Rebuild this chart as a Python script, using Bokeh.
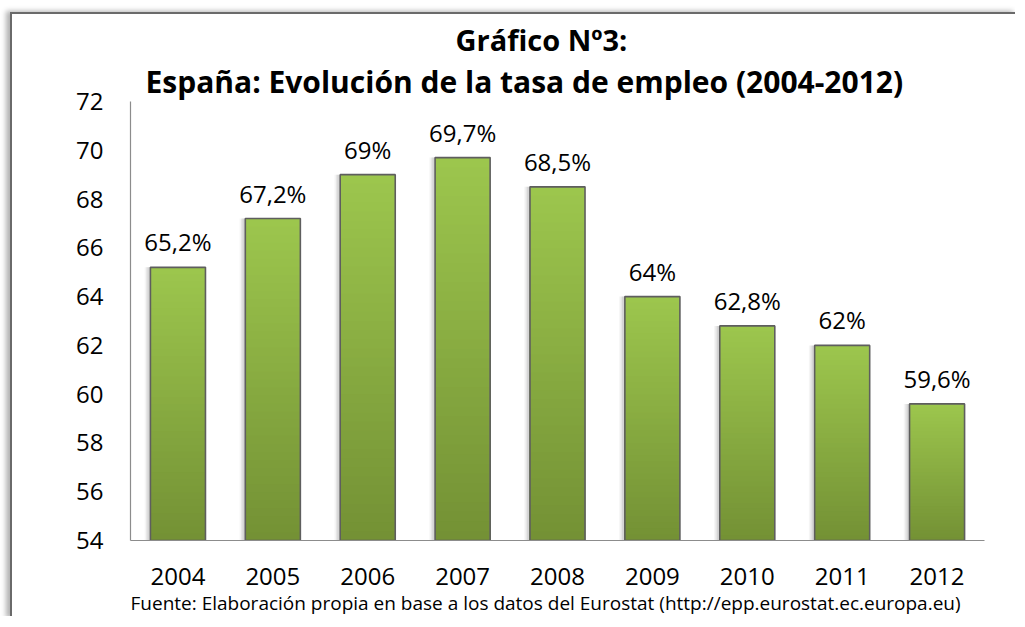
import numpy as np
from bokeh.plotting import figure
from bokeh.models import (ColumnDataSource, FixedTicker, LabelSet, Title, Range1d, InlineStyleSheet)
from bokeh.core.properties import value
from bokeh.transform import dodge
from bokeh.embed import file_html
from bokeh.resources import INLINE

# ---- data ----
years = ["2004", "2005", "2006", "2007", "2008", "2009", "2010", "2011", "2012"]
rates = [65.2, 67.2, 69.0, 69.7, 68.5, 64.0, 62.8, 62.0, 59.6]
y_ticks = [54, 56, 58, 60, 62, 64, 66, 68, 70, 72]
title_line1 = "Gráfico Nº3:"
title_line2 = "España: Evolución de la tasa de empleo (2004-2012)"
source_note = "Fuente: Elaboración propia en base a los datos del Eurostat (http://epp.eurostat.ec.europa.eu)"

BASE = 54
TOP = 72
FONT = "Open Sans"

def fmt(v):
    s = ("%.1f" % v).rstrip("0").rstrip(".")
    return s.replace(".", ",") + "%"

labels = [fmt(v) for v in rates]

p = figure(x_range=years, y_range=Range1d(BASE, TOP), width=1017, height=619,
           output_backend="svg", toolbar_location=None,
           min_border_left=130, min_border_right=33, min_border_top=101, min_border_bottom=79)
p.background_fill_color = "white"
p.border_fill_color = "white"
p.outline_line_color = None
p.xgrid.grid_line_color = None
p.ygrid.grid_line_color = None

W = 0.58

# soft shadows to the left of each bar
sh = ColumnDataSource(dict(x=years, top=rates, bottom=[BASE] * len(rates)))
for off, a in [(-0.06, 0.08), (-0.045, 0.12), (-0.03, 0.16)]:
    p.vbar(x=dodge("x", off, range=p.x_range), top="top", bottom="bottom", width=W,
           source=sh, fill_color="#7f7f7f", fill_alpha=a, line_color=None)

# gradient bars: overlapping layers from the base, light at top, dark at bottom
N = 40
c_top = np.array([157, 199, 78])
c_bot = np.array([116, 145, 53])
xs, tops, cols = [], [], []
for yr, v in zip(years, rates):
    h = v - BASE
    for k in range(N - 1, -1, -1):
        t = (k + 0.5) / N
        c = (c_bot * (1 - t) + c_top * t).astype(int)
        xs.append(yr)
        tops.append(BASE + h * (k + 1) / N)
        cols.append("#%02x%02x%02x" % tuple(c))
gs = ColumnDataSource(dict(x=xs, top=tops, bottom=[BASE] * len(xs), color=cols))
p.vbar(x="x", bottom="bottom", top="top", width=W, source=gs,
       fill_color="color", line_color=None)

# outlines
src = ColumnDataSource(dict(x=years, top=rates, bottom=[BASE] * len(rates), label=labels))
p.vbar(x="x", top="top", bottom="bottom", width=W, source=src,
       fill_color=None, line_color="#5e5e5e", line_width=1.6)

# value labels
p.add_layout(LabelSet(x="x", y="top", text="label", source=src, y_offset=9,
                      text_align="center", text_baseline="bottom",
                      text_font=value(FONT), text_font_size="24px", text_color="#000000"))

# axes
p.yaxis.ticker = FixedTicker(ticks=y_ticks)
for ax in (p.xaxis[0], p.yaxis[0]):
    ax.axis_line_color = "#8c8c8c"
    ax.axis_line_width = 1.2
    ax.major_tick_line_color = None
    ax.minor_tick_line_color = None
    ax.major_label_text_font = FONT
    ax.major_label_text_font_size = "24px"
    ax.major_label_text_color = "#000000"
p.yaxis.major_label_standoff = 21
p.xaxis.major_label_standoff = 21
p.x_range.range_padding = 0.0

# titles (left-aligned with offsets to mimic the original placement)
p.add_layout(Title(text=title_line2, align="left", offset=15, text_font=FONT,
                   text_font_size="30px", text_font_style="bold", text_color="#000000",
                   text_line_height=0.85, standoff=0), "above")
p.add_layout(Title(text=title_line1, align="left", offset=325, text_font=FONT,
                   text_font_size="29px", text_font_style="bold", text_color="#000000",
                   standoff=0), "above")
p.title.visible = False

# source note
p.add_layout(Title(text=source_note, align="left", offset=0, text_font=FONT,
                   text_font_size="19px", text_font_style="normal", text_color="#000000",
                   standoff=0), "below")

# outer chart frame (left and top edges with a soft shadow)
p.stylesheets = [InlineStyleSheet(css="""
:host::before {
  content: "";
  position: absolute;
  left: 10px; top: 12px; right: 0px; bottom: 0px;
  border-left: 2px solid #6a6a6a;
  border-top: 2px solid #6a6a6a;
  box-shadow: -4px -1px 5px rgba(0,0,0,0.30);
  clip-path: inset(-12px 2px 3px -12px);
  pointer-events: none;
  z-index: 10;
}
""")]

open("out.html", "w").write(file_html(p, INLINE))
